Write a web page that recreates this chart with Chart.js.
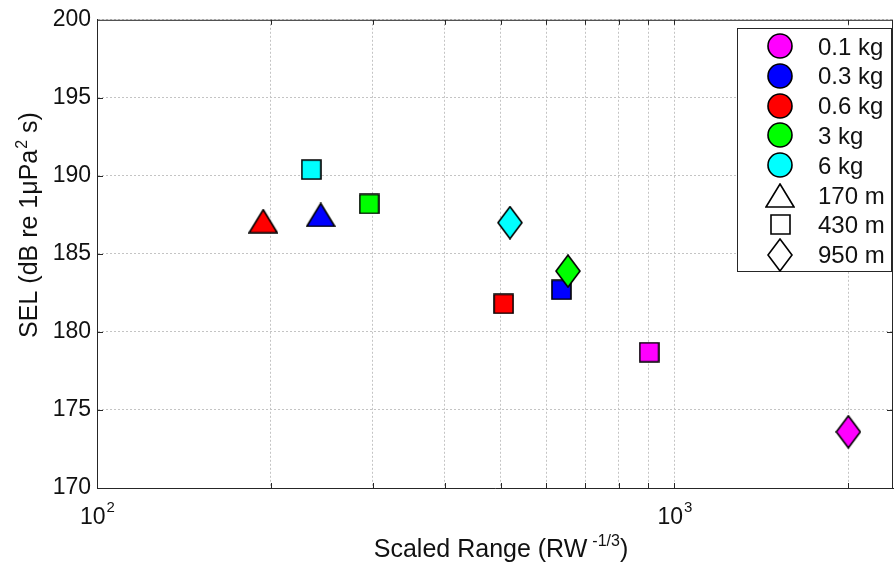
<!DOCTYPE html>
<html>
<head>
<meta charset="utf-8">
<title>SEL vs scaled range</title>
<script src="https://cdn.jsdelivr.net/npm/chart.js@4.4.1/dist/chart.umd.min.js"></script>
<style>
  html, body { margin: 0; padding: 0; background: #fff; }
  #wrap { width: 894px; height: 570px; }
</style>
</head>
<body>
<div id="wrap"><canvas id="selChart" width="894" height="570"></canvas></div>
<script>
// charges and ranges shown in the legend
const chargeLabels = ['0.1 kg', '0.3 kg', '0.6 kg', '3 kg', '6 kg'];
const rangeLabels = ['170 m', '430 m', '950 m'];

// 170 m shots
const x170m = [194, 244];
const sel170m = [187.1, 187.5];
const kg170m = ['0.6 kg', '0.3 kg'];

// 430 m shots
const x430m = [235, 296, 506, 637, 904];
const sel430m = [190.4, 188.2, 181.8, 182.7, 178.7];
const kg430m = ['6 kg', '3 kg', '0.6 kg', '0.3 kg', '0.1 kg'];

// 950 m shots
const x950m = [519, 654, 2000];
const sel950m = [187.0, 183.9, 173.6];
const kg950m = ['6 kg', '3 kg', '0.1 kg'];

// axis ticks
const xTicks = [100, 200, 300, 400, 500, 600, 700, 800, 900, 1000, 2000];
const xLabelTicks = [100, 1000];
const yTicks = [170, 175, 180, 185, 190, 195, 200];

const chargeColors = ['#ff00ff', '#0000ff', '#ff0000', '#00ff00', '#00ffff'];
const rangeShapes = ['triangle', 'square', 'diamond'];
const axisColor = '#262626';
const fontFamily = "'Liberation Sans', Arial, sans-serif";

const colorOf = kg => chargeColors[chargeLabels.indexOf(kg)];

// small canvases used as point styles (matlab-like markers)
const makeMarker = (shape, fill) => {
  const c = document.createElement('canvas');
  let w = 26, h = 26;
  if (shape === 'triangle') { w = 30; h = 25; }
  if (shape === 'square') { w = 21; h = 21; }
  if (shape === 'diamond') { w = 26; h = 34; }
  c.width = w;
  c.height = h;
  const g = c.getContext('2d');
  const m = 1;
  g.lineWidth = 1.6;
  g.strokeStyle = '#000';
  g.lineJoin = 'miter';
  g.beginPath();
  if (shape === 'triangle') {
    g.moveTo(w / 2, m);
    g.lineTo(w - m, h - m);
    g.lineTo(m, h - m);
    g.closePath();
  } else if (shape === 'square') {
    g.rect(m, m, w - 2 * m, h - 2 * m);
  } else if (shape === 'diamond') {
    g.moveTo(w / 2, m);
    g.lineTo(w - m, h / 2);
    g.lineTo(w / 2, h - m);
    g.lineTo(m, h / 2);
    g.closePath();
  } else {
    g.arc(w / 2, h / 2, w / 2 - m, 0, Math.PI * 2);
  }
  if (fill) {
    g.fillStyle = fill;
    g.fill();
  }
  g.stroke();
  return c;
};

const makeDataset = (label, xs, ys, kgs, shape, order) => ({
  label: label,
  data: xs.map((x, i) => ({ x: x, y: ys[i] })),
  pointStyle: kgs.map(k => makeMarker(shape, colorOf(k))),
  pointRadius: 12,
  showLine: false,
  order: order
});

// frame, inward ticks, axis titles and the boxed legend
const framePlugin = {
  id: 'frame',
  afterDraw(chart) {
    const { ctx, chartArea: a, scales: { x, y } } = chart;
    ctx.save();
    ctx.strokeStyle = axisColor;
    ctx.lineWidth = 1;

    ctx.beginPath();
    ctx.moveTo(a.left, a.top + 0.5);
    ctx.lineTo(a.right, a.top + 0.5);
    ctx.moveTo(a.right - 0.5, a.top);
    ctx.lineTo(a.right - 0.5, a.bottom);
    ctx.stroke();

    ctx.beginPath();
    xTicks.slice(1).forEach(v => {
      const px = Math.round(x.getPixelForValue(v)) + 0.5;
      ctx.moveTo(px, a.bottom);
      ctx.lineTo(px, a.bottom - 5);
      ctx.moveTo(px, a.top);
      ctx.lineTo(px, a.top + 5);
    });
    yTicks.slice(1, -1).forEach(v => {
      const py = Math.round(y.getPixelForValue(v)) + 0.5;
      ctx.moveTo(a.left, py);
      ctx.lineTo(a.left + 6, py);
      ctx.moveTo(a.right, py);
      ctx.lineTo(a.right - 6, py);
    });
    ctx.stroke();

    ctx.fillStyle = '#111';
    ctx.textBaseline = 'alphabetic';
    ctx.textAlign = 'left';

    // x tick labels as powers of ten
    xLabelTicks.forEach(v => {
      const px = x.getPixelForValue(v);
      const exp = String(Math.round(Math.log10(v)));
      ctx.font = '23px ' + fontFamily;
      const wBase = ctx.measureText('10').width;
      ctx.font = '15px ' + fontFamily;
      const wExp = ctx.measureText(exp).width;
      const x0 = px - (wBase + wExp) / 2;
      ctx.font = '23px ' + fontFamily;
      ctx.fillText('10', x0, 524);
      ctx.font = '15px ' + fontFamily;
      ctx.fillText(exp, x0 + wBase + 1, 512);
    });

    // x axis title
    const xMain = 'Scaled Range (RW';
    const xSup = '-1/3';
    ctx.font = '25px ' + fontFamily;
    const w1 = ctx.measureText(xMain).width;
    const w3 = ctx.measureText(')').width;
    ctx.font = '16px ' + fontFamily;
    const w2 = ctx.measureText(xSup).width;
    const gap = 5;
    let tx = 501 - (w1 + gap + w2 + w3) / 2;
    ctx.font = '25px ' + fontFamily;
    ctx.fillText(xMain, tx, 557);
    ctx.font = '16px ' + fontFamily;
    ctx.fillText(xSup, tx + w1 + gap, 546);
    ctx.font = '25px ' + fontFamily;
    ctx.fillText(')', tx + w1 + gap + w2, 557);

    // y axis title, rotated
    const yMain = 'SEL (dB re 1\u03BCPa';
    const ySup = '2';
    const yEnd = ' s)';
    ctx.font = '25px ' + fontFamily;
    const v1 = ctx.measureText(yMain).width;
    const v3 = ctx.measureText(yEnd).width;
    ctx.font = '16px ' + fontFamily;
    const v2 = ctx.measureText(ySup).width;
    ctx.save();
    ctx.translate(37, 225);
    ctx.rotate(-Math.PI / 2);
    let ty = -(v1 + v2 + 1 + v3) / 2;
    ctx.font = '25px ' + fontFamily;
    ctx.fillText(yMain, ty, 0);
    ctx.font = '16px ' + fontFamily;
    ctx.fillText(ySup, ty + v1 + 1, -10);
    ctx.font = '25px ' + fontFamily;
    ctx.fillText(yEnd, ty + v1 + 1 + v2, 0);
    ctx.restore();

    // legend box
    const lx = 737, ly = 28, lw = 155, lh = 244;
    ctx.fillStyle = '#fff';
    ctx.fillRect(lx, ly, lw, lh);
    ctx.strokeStyle = axisColor;
    ctx.strokeRect(lx + 0.5, ly + 0.5, lw - 1, lh - 1);

    const entries = chargeLabels.map((lab, i) => ({ lab: lab, img: makeMarker('circle', chargeColors[i]) }))
      .concat(rangeLabels.map((lab, i) => ({ lab: lab, img: makeMarker(rangeShapes[i], null) })));
    ctx.font = '24px ' + fontFamily;
    ctx.fillStyle = '#111';
    entries.forEach((e, i) => {
      const cy = 46 + i * 29.8;
      ctx.drawImage(e.img, Math.round(780 - e.img.width / 2), Math.round(cy - e.img.height / 2));
      ctx.fillText(e.lab, 818, cy + 8.5);
    });
    ctx.restore();
  }
};

const ctxSel = document.getElementById('selChart').getContext('2d');
const selChart = new Chart(ctxSel, {
  type: 'scatter',
  data: {
    datasets: [
      makeDataset('170 m', x170m, sel170m, kg170m, 'triangle', 2),
      makeDataset('430 m', x430m, sel430m, kg430m, 'square', 1),
      makeDataset('950 m', x950m, sel950m, kg950m, 'diamond', 0)
    ]
  },
  options: {
    responsive: false,
    animation: false,
    devicePixelRatio: 1,
    events: [],
    layout: { autoPadding: false, padding: { left: 0, right: 1, top: 18, bottom: 0 } },
    plugins: {
      legend: { display: false },
      tooltip: { enabled: false }
    },
    scales: {
      x: {
        type: 'logarithmic',
        min: 100,
        max: 2390,
        afterBuildTicks: scale => { scale.ticks = xTicks.map(v => ({ value: v })); },
        afterFit: scale => { scale.height = 82; },
        ticks: { display: false },
        grid: { color: '#c4c4c4', lineWidth: 1, drawTicks: false },
        border: { display: true, color: axisColor, width: 1, dash: [2, 2] }
      },
      y: {
        min: 170,
        max: 200,
        afterBuildTicks: scale => { scale.ticks = yTicks.map(v => ({ value: v })); },
        afterFit: scale => { scale.width = 97; },
        ticks: {
          padding: 6,
          color: '#111',
          font: { family: fontFamily, size: 23 },
          callback: v => String(v)
        },
        grid: { color: '#c4c4c4', lineWidth: 1, drawTicks: false },
        border: { display: true, color: axisColor, width: 1, dash: [2, 2] }
      }
    }
  },
  plugins: [framePlugin]
});
</script>
</body>
</html>
